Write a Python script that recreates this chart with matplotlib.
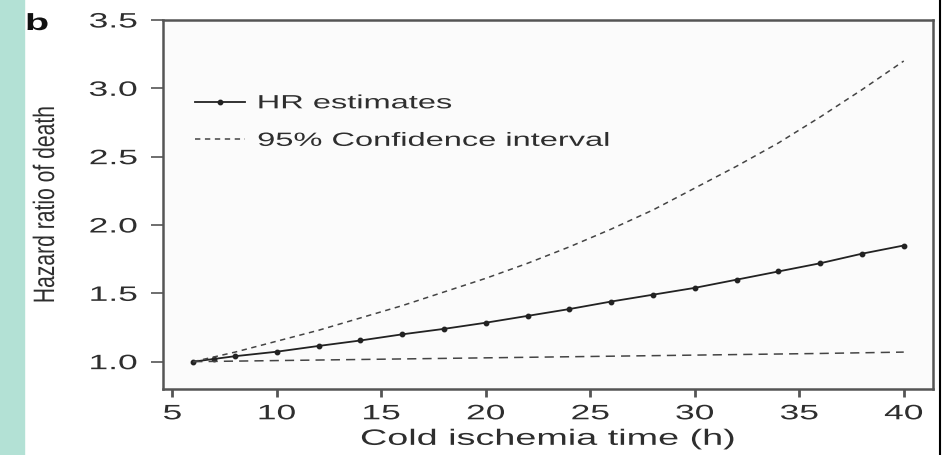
import matplotlib.pyplot as plt
from matplotlib.patches import Rectangle
from matplotlib.lines import Line2D
from matplotlib.patheffects import AbstractPathEffect
from matplotlib.transforms import Affine2D

# Values
hours = [6, 7, 8, 10, 12, 14, 16, 18, 20, 22, 24, 26, 28, 30, 32, 34, 36, 38, 40]
hr_est = [1.00, 1.02, 1.04, 1.073, 1.115, 1.155, 1.20, 1.24, 1.285, 1.335, 1.385,
          1.44, 1.49, 1.54, 1.60, 1.66, 1.72, 1.79, 1.85]
ci_upper = [1.00, 1.035, 1.07, 1.15, 1.23, 1.32, 1.41, 1.51, 1.61, 1.72, 1.84,
            1.97, 2.11, 2.27, 2.43, 2.60, 2.79, 2.99, 3.20]
ci_lower = [1.00, 1.002, 1.004, 1.008, 1.012, 1.016, 1.020, 1.024, 1.028, 1.032, 1.036,
            1.040, 1.044, 1.048, 1.052, 1.056, 1.060, 1.065, 1.070]

x_ticks = [5, 10, 15, 20, 25, 30, 35, 40]
y_ticks = [1.0, 1.5, 2.0, 2.5, 3.0, 3.5]


# the reference figure was stretched sideways, so stretch the glyphs the same way
class Stretch(AbstractPathEffect):
    def __init__(self, sx=1.0, sy=1.0, ax=0.5, ay=0.5):
        super().__init__()
        self.sx, self.sy, self.ax, self.ay = sx, sy, ax, ay

    def draw_path(self, renderer, gc, tpath, affine, rgbFace=None):
        ext = tpath.get_extents()
        cx = ext.x0 + self.ax * ext.width
        cy = ext.y0 + self.ay * ext.height
        t = Affine2D().translate(-cx, -cy).scale(self.sx, self.sy).translate(cx, cy)
        renderer.draw_path(gc, tpath, t + affine, rgbFace)


SX = 1.7
plt.rcParams['font.family'] = ['Liberation Sans', 'DejaVu Sans']
txt_col = '#2e2e2e'

fig = plt.figure(figsize=(9.51, 4.56), dpi=100)
ax = fig.add_axes([163 / 951, 66 / 456, (933 - 163) / 951, (390 - 21) / 456])
ax.set_facecolor('#fbfbfb')

ax.plot(hours, hr_est, color='#222222', lw=1.3, marker='o', markersize=3.2,
        label='HR estimates')
ax.plot(hours, ci_upper, color='#444444', lw=1.1, ls=(0, (3.5, 3)),
        label='95% Confidence interval')
ax.plot(hours, ci_lower, color='#444444', lw=1.1, ls=(0, (6, 4)))

ax.set_xlim(4.55, 41.4)
ax.set_ylim(0.8, 3.5)
ax.set_xticks(x_ticks)
ax.set_yticks(y_ticks)
ax.set_yticklabels(['%.1f' % v for v in y_ticks])
ax.tick_params(axis='both', direction='out', colors='#555555',
               labelsize=15, labelcolor=txt_col)
ax.tick_params(axis='y', length=8.5, width=1.2, pad=10)
ax.tick_params(axis='x', length=6, width=2.0, pad=5)
for lab in ax.get_yticklabels():
    lab.set_path_effects([Stretch(sx=SX, ax=1.0)])
for lab in ax.get_xticklabels():
    lab.set_path_effects([Stretch(sx=SX, ax=0.5)])
for s in ax.spines.values():
    s.set_color('#555555')
    s.set_linewidth(1.8)

xl = ax.set_xlabel('Cold ischemia time (h)', fontsize=16, color=txt_col, labelpad=4)
xl.set_path_effects([Stretch(sx=SX, ax=0.5)])
yl = ax.set_ylabel('Hazard ratio of death', fontsize=15.2, color=txt_col)
yl.set_path_effects([Stretch(sy=1.4, ay=0.5)])
ax.yaxis.set_label_coords((55 - 163) / 770, 0.5)

leg = ax.legend(loc='upper left', bbox_to_anchor=(0.0415, 0.797), frameon=False,
                fontsize=13.8, labelcolor=txt_col, handlelength=2.6,
                handletextpad=0.68, labelspacing=1.05, borderpad=0, borderaxespad=0)
for t in leg.get_texts():
    t.set_path_effects([Stretch(sx=SX, ax=0.0)])

# teal side stripe, panel letter and right border line
fig.patches.append(Rectangle((0, 0), 24 / 951, 1, transform=fig.transFigure,
                             color='#b3e1d5', zorder=0))
fig.text(26 / 951, 1 - 31 / 456, 'b', fontsize=16.8, fontweight='bold', color='#111111',
         path_effects=[Stretch(sx=SX, ax=0.0)])
fig.lines.append(Line2D([940 / 951, 940 / 951], [0, 1], transform=fig.transFigure,
                        color='black', lw=1.5))

fig.savefig('out.png', dpi=100)
